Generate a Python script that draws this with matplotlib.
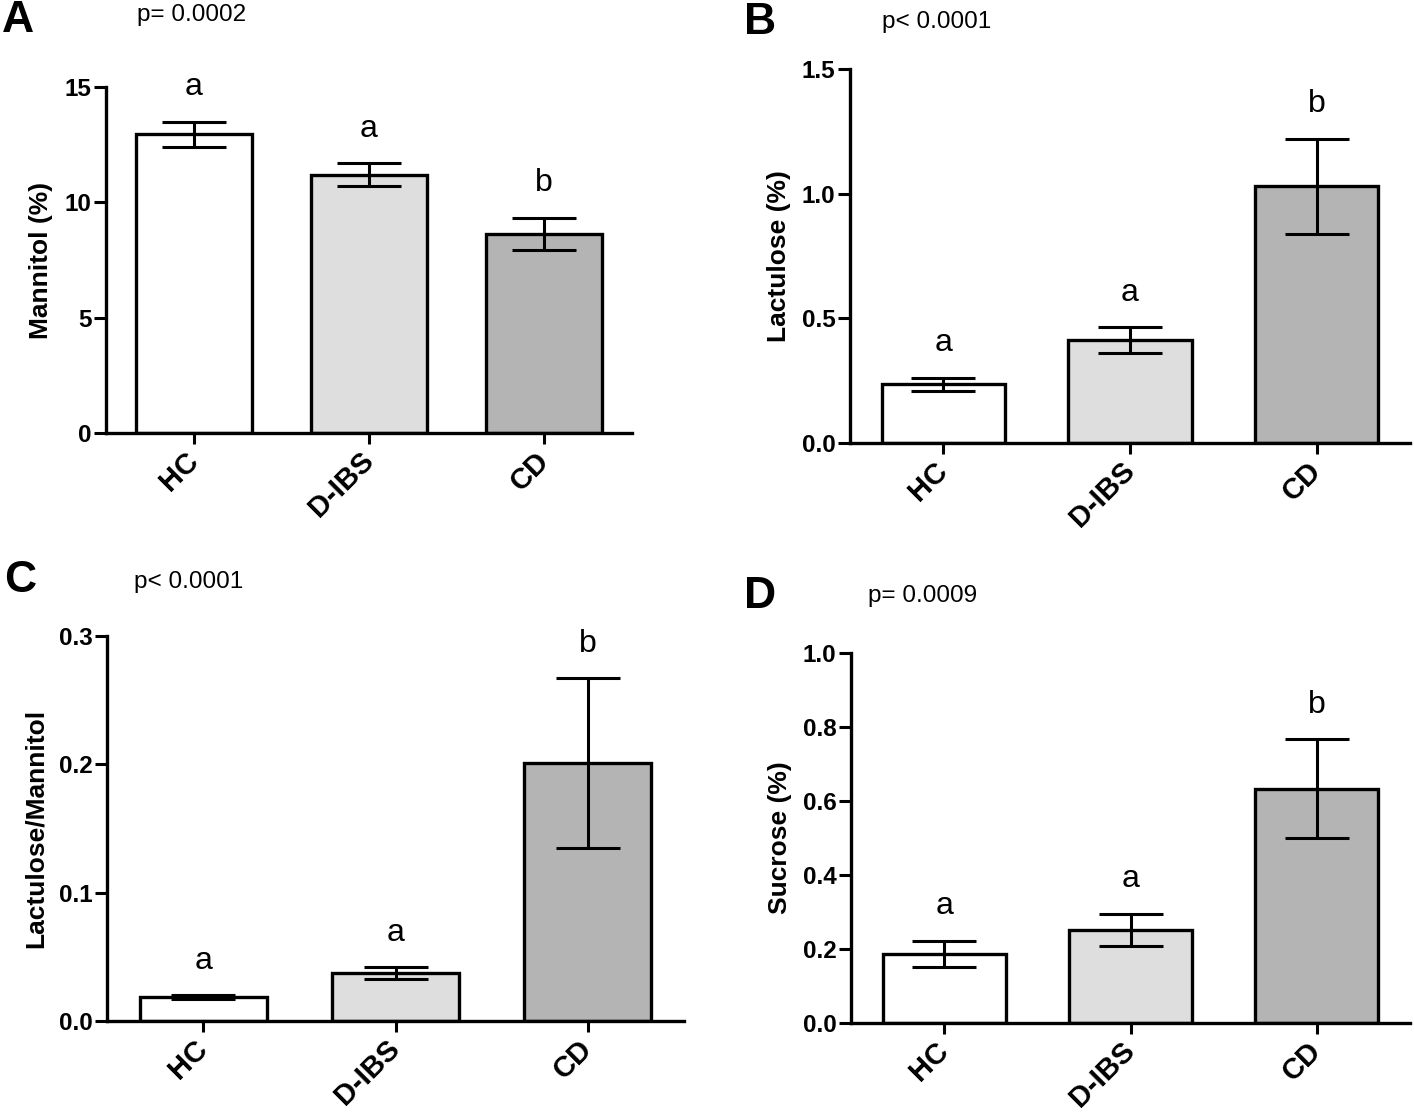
import numpy as np
from matplotlib import pyplot as plt

plt.rcParams['font.family'] = ['Liberation Sans', 'DejaVu Sans']

groups = ["HC", "D-IBS", "CD"]
bar_colors = ["#ffffff", "#dedede", "#b4b4b4"]

# mean and SEM
mannitol = [12.95, 11.2, 8.63]
mannitol_err = [0.55, 0.49, 0.70]
lactulose = [0.235, 0.413, 1.03]
lactulose_err = [0.027, 0.052, 0.19]
ratio = [0.0187, 0.0374, 0.201]
ratio_err = [0.0012, 0.0047, 0.066]
sucrose = [0.187, 0.252, 0.633]
sucrose_err = [0.035, 0.043, 0.134]

letters_A = ["a", "a", "b"]
letters_B = ["a", "a", "b"]
letters_C = ["a", "a", "b"]
letters_D = ["a", "a", "b"]

W, H = 1414, 1116
fig = plt.figure(figsize=(W / 100, H / 100), dpi=100)


def box(left, top, right, bottom):
    return [left / W, 1 - bottom / H, (right - left) / W, (bottom - top) / H]


def panel(rect, vals, errs, letters, ylabel, ymax, yticks, fmt):
    ax = fig.add_axes(rect)
    x = np.arange(len(groups))
    ax.bar(x, vals, width=0.66, color=bar_colors, edgecolor='black', linewidth=2.4, zorder=2)
    ax.errorbar(x, vals, yerr=errs, fmt='none', ecolor='black', elinewidth=2.2,
                capsize=23, capthick=2.2, zorder=3)
    for xi, v, e, t in zip(x, vals, errs, letters):
        ax.annotate(t, (xi, v + e), xytext=(0, 19), textcoords='offset points',
                    ha='center', va='baseline', fontsize=23)
    ax.set_xlim(-0.5, 2.5)
    ax.set_ylim(0, ymax)
    ax.set_yticks(yticks)
    ax.set_yticklabels([fmt % t for t in yticks], fontweight='bold', fontsize=17.5)
    ax.set_xticks(x)
    ax.set_xticklabels(groups, rotation=45, ha='right', va='center', rotation_mode='anchor',
                       fontweight='bold', fontsize=21)
    ax.spines['top'].set_visible(False)
    ax.spines['right'].set_visible(False)
    ax.spines['left'].set_linewidth(2.4)
    ax.spines['bottom'].set_linewidth(2.4)
    ax.tick_params(axis='y', length=9, width=2.2, pad=1.5)
    ax.tick_params(axis='x', length=8, width=2.2, pad=9)
    ax.set_ylabel(ylabel, fontweight='bold', fontsize=19, labelpad=8)
    return ax


panel(box(106, 87, 632, 433), mannitol, mannitol_err, letters_A, "Mannitol (%)",
      15, [0, 5, 10, 15], "%d")
panel(box(850, 69, 1410, 443), lactulose, lactulose_err, letters_B, "Lactulose (%)",
      1.5, [0.0, 0.5, 1.0, 1.5], "%.1f")
panel(box(107, 636, 684, 1021), ratio, ratio_err, letters_C, "Lactulose/Mannitol",
      0.3, [0.0, 0.1, 0.2, 0.3], "%.1f")
panel(box(851, 653, 1410, 1023), sucrose, sucrose_err, letters_D, "Sucrose (%)",
      1.0, [0.0, 0.2, 0.4, 0.6, 0.8, 1.0], "%.1f")

# panel letters and p values
for lab, px, py in [("A", 18, 20), ("B", 760, 22), ("C", 20, 580), ("D", 760, 597)]:
    fig.text(px / W, 1 - py / H, lab, fontsize=32, fontweight='bold', ha='center', va='center')
for txt, px, py in [("p= 0.0002", 137, 15), ("p< 0.0001", 882, 22),
                    ("p< 0.0001", 134, 582), ("p= 0.0009", 868, 596)]:
    fig.text(px / W, 1 - py / H, txt, fontsize=17.5, ha='left', va='center')

fig.savefig("out.png", dpi=100)
